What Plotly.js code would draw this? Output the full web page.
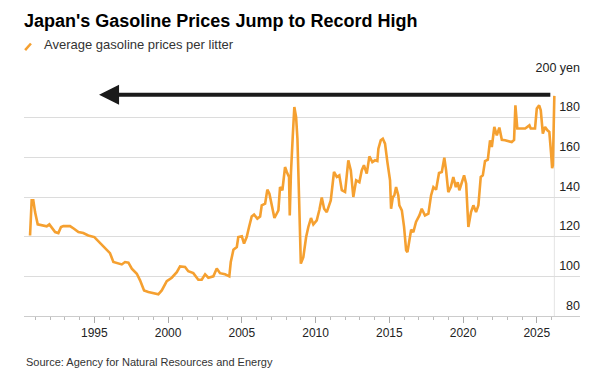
<!DOCTYPE html>
<html>
<head>
<meta charset="utf-8">
<script src="https://cdn.plot.ly/plotly-3.0.1.min.js"></script>
<style>
  html, body { margin: 0; padding: 0; background: #fff; }
  #chart { width: 611px; height: 376px; }
</style>
</head>
<body>
<div id="chart"></div>
<script>
// ---- Data ----
const years = [
  1990.64, 1990.75, 1990.86, 1990.98, 1991.16, 1991.43, 1991.77, 1991.95, 1992.11, 1992.34,
  1992.56, 1992.74, 1992.90, 1993.35, 1993.62, 1993.92, 1994.25, 1994.59, 1995.00, 1995.39,
  1995.73, 1996.06, 1996.29, 1996.63, 1996.86, 1997.08, 1997.31, 1997.54, 1997.88, 1998.10,
  1998.37, 1998.66, 1999.00, 1999.34, 1999.57, 1999.91, 2000.25, 2000.59, 2000.81, 2001.04,
  2001.15, 2001.37, 2001.71, 2002.05, 2002.28, 2002.51, 2002.73, 2003.07, 2003.30, 2003.52,
  2003.86, 2004.15, 2004.25, 2004.43, 2004.66, 2004.76, 2005.00, 2005.15, 2005.33, 2005.49,
  2005.67, 2005.83, 2006.05, 2006.24, 2006.35, 2006.58, 2006.73, 2006.87, 2007.03, 2007.21,
  2007.48, 2007.59, 2007.75, 2007.93, 2008.05, 2008.20, 2008.25, 2008.33, 2008.45, 2008.56,
  2008.68, 2008.77, 2008.88, 2009.00, 2009.17, 2009.36, 2009.51, 2009.69, 2009.85, 2010.08,
  2010.26, 2010.42, 2010.58, 2010.76, 2011.03, 2011.25, 2011.44, 2011.61, 2011.78, 2012.00,
  2012.22, 2012.39, 2012.56, 2012.75, 2012.97, 2013.13, 2013.28, 2013.47, 2013.65, 2013.85,
  2014.03, 2014.19, 2014.26, 2014.42, 2014.56, 2014.71, 2014.87, 2015.05, 2015.12, 2015.24,
  2015.34, 2015.46, 2015.61, 2015.68, 2015.85, 2016.00, 2016.14, 2016.23, 2016.36, 2016.48,
  2016.63, 2016.81, 2017.04, 2017.20, 2017.42, 2017.65, 2017.83, 2017.99, 2018.17, 2018.37,
  2018.56, 2018.73, 2018.85, 2019.00, 2019.17, 2019.34, 2019.51, 2019.64, 2019.75, 2019.91,
  2020.07, 2020.21, 2020.36, 2020.54, 2020.70, 2020.88, 2021.04, 2021.20, 2021.34, 2021.49,
  2021.68, 2021.83, 2021.95, 2022.12, 2022.29, 2022.46, 2022.63, 2022.85, 2023.07, 2023.30,
  2023.46, 2023.55, 2023.68, 2023.87, 2024.21, 2024.50, 2024.59, 2024.88, 2025.00, 2025.16,
  2025.27, 2025.41, 2025.56, 2025.72, 2025.85, 2025.97, 2026.04, 2026.09, 2026.19
];
const prices = [
  120.6, 138.3, 138.3, 132.4, 126.2, 125.7, 125.2, 126.2, 124.5, 122.3,
  121.8, 124.9, 125.4, 125.3, 124.0, 122.3, 121.8, 120.6, 119.8, 116.8,
  113.9, 111.7, 107.2, 106.4, 106.0, 107.2, 106.9, 103.9, 101.3, 98.0,
  92.9, 92.1, 91.6, 90.9, 92.9, 97.6, 99.3, 102.1, 105.0, 104.7,
  104.7, 102.6, 101.6, 98.3, 98.3, 101.0, 99.3, 100.0, 103.9, 101.6,
  101.0, 100.0, 107.2, 113.4, 114.8, 119.8, 120.2, 116.5, 119.8, 124.9,
  130.2, 131.1, 129.1, 130.2, 135.8, 136.6, 143.7, 141.7, 135.3, 129.4,
  133.3, 145.0, 143.4, 155.1, 152.6, 150.1, 130.7, 152.0, 170.2, 185.4,
  180.3, 169.4, 140.0, 106.4, 109.7, 119.8, 124.9, 129.4, 126.2, 128.2,
  133.6, 139.7, 134.1, 132.4, 138.3, 152.6, 150.1, 150.9, 143.4, 142.5,
  158.5, 153.4, 140.0, 148.4, 147.5, 153.4, 156.0, 151.8, 160.5, 157.6,
  158.5, 158.1, 164.4, 168.6, 169.4, 166.9, 157.6, 148.4, 134.1, 140.0,
  140.8, 145.0, 140.8, 135.8, 133.3, 124.9, 113.1, 112.2, 118.1, 123.5,
  122.3, 127.4, 130.7, 134.1, 130.7, 131.6, 140.8, 145.0, 143.7, 152.1,
  152.6, 159.8, 153.4, 142.5, 145.0, 150.1, 145.0, 147.5, 143.4, 146.7,
  150.9, 146.7, 124.9, 132.4, 135.8, 132.4, 135.8, 150.1, 150.9, 158.1,
  158.8, 168.6, 165.2, 175.3, 171.1, 175.0, 168.8, 168.6, 168.1, 167.7,
  168.8, 186.2, 174.5, 174.5, 174.5, 176.1, 174.5, 174.5, 184.6, 186.2,
  183.7, 172.0, 175.3, 173.6, 172.8, 162.0, 154.5, 156.0, 191.0
];
const xTickVals = [1995, 2000, 2005, 2010, 2015, 2020, 2025];
const xTickText = ['1995', '2000', '2005', '2010', '2015', '2020', '2025'];
const xMinorVals = [1991, 1992, 1993, 1994, 1996, 1997, 1998, 1999, 2001, 2002, 2003, 2004,
  2006, 2007, 2008, 2009, 2011, 2012, 2013, 2014, 2016, 2017, 2018, 2019, 2021, 2022, 2023, 2024, 2026];
const yTickVals = [80, 100, 120, 140, 160, 180, 200];
const yTickText = ['80', '100', '120', '140', '160', '180', '200 yen'];

const titleText = "Japan's Gasoline Prices Jump to Record High";
const seriesName = 'Average gasoline prices per litter';
const sourceText = 'Source: Agency for Natural Resources and Energy';

// ---- Styling ----
const FONT = 'Liberation Sans, Arial, Helvetica, sans-serif';
const ORANGE = '#F5A030';
const lastX = years[years.length - 1];
const lastY = prices[prices.length - 1];

const trace = {
  x: years, y: prices,
  type: 'scatter', mode: 'lines',
  name: seriesName,
  line: { color: ORANGE, width: 2.6, shape: 'linear' },
  hoverinfo: 'x+y'
};

const layout = {
  width: 611, height: 376,
  margin: { l: 24, r: 31, t: 78, b: 60 },
  paper_bgcolor: '#fff', plot_bgcolor: '#fff',
  font: { family: FONT, color: '#222', size: 12 },
  showlegend: false,
  title: {
    text: titleText,
    font: { family: FONT, size: 18, color: '#000', weight: 700 },
    xref: 'container', x: 24 / 611, xanchor: 'left',
    yref: 'container', y: 1 - 21 / 376, yanchor: 'middle'
  },
  xaxis: {
    range: [1990.23, 2027.93],
    tickmode: 'array', tickvals: xTickVals, ticktext: xTickText,
    ticks: 'outside', ticklen: 6, tickwidth: 1, tickcolor: '#aaa',
    showline: true, linecolor: '#ccc', linewidth: 1,
    showgrid: false, zeroline: false,
    tickfont: { family: FONT, size: 12, color: '#222' },
    minor: { tickmode: 'array', tickvals: xMinorVals, ticks: 'outside', ticklen: 3, tickwidth: 1, tickcolor: '#bbb', showgrid: false },
    fixedrange: true
  },
  yaxis: {
    range: [80, 200], side: 'right',
    tickmode: 'array', tickvals: yTickVals, ticktext: yTickText,
    ticks: '', showline: false, zeroline: false,
    showgrid: true, gridcolor: '#dcdcdc', gridwidth: 1,
    ticklabelposition: 'inside top', ticklabeloverflow: 'allow',
    ticklabelstandoff: -3, ticklabelshift: -2,
    tickfont: { family: FONT, size: 12.5, color: '#222' },
    fixedrange: true
  },
  shapes: [
    { type: 'line', xref: 'x', yref: 'y', x0: lastX, x1: lastX, y0: 80, y1: lastY,
      line: { color: '#e4e4e4', width: 1 }, layer: 'below' },
    { type: 'line', xref: 'paper', yref: 'paper', x0: 0.002, y0: 1.117, x1: 0.0125, y1: 1.145,
      line: { color: ORANGE, width: 2.5 } }
  ],
  annotations: [
    { xref: 'paper', yref: 'paper', x: 0.0318, y: 1.139, xanchor: 'left', yanchor: 'middle',
      text: seriesName, showarrow: false, font: { family: FONT, size: 13, color: '#333' } },
    { xref: 'paper', yref: 'paper', x: 0, y: -0.195, xanchor: 'left', yanchor: 'middle',
      text: sourceText, showarrow: false, font: { family: FONT, size: 11, color: '#333' } },
    { xref: 'x', yref: 'y', axref: 'x', ayref: 'y',
      x: 1995.32, y: 191.5, ax: 2026.02, ay: 191.5,
      text: '', showarrow: true, arrowhead: 2, arrowsize: 1, arrowwidth: 4,
      arrowcolor: '#1a1a1a', standoff: 0, startstandoff: 0 }
  ]
};

Plotly.newPlot('chart', [trace], layout, { displayModeBar: false, staticPlot: true });
</script>
</body>
</html>
